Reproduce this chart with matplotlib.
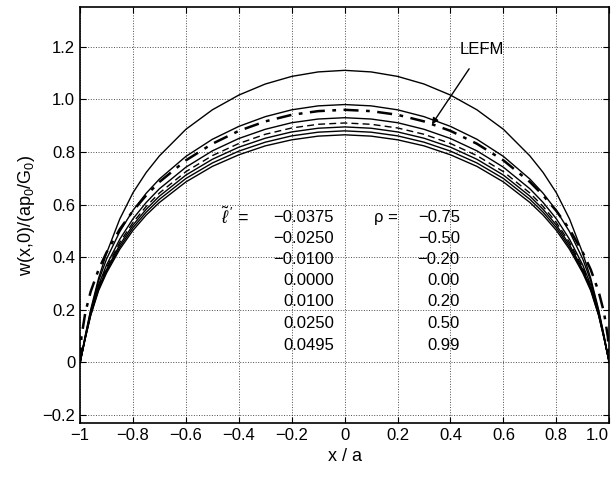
import matplotlib
matplotlib.use("Agg")
import matplotlib.pyplot as plt

plt.rcParams['font.family'] = ['Liberation Sans', 'DejaVu Sans']
plt.rcParams['mathtext.fontset'] = 'custom'
plt.rcParams['mathtext.rm'] = 'Liberation Sans'
plt.rcParams['mathtext.it'] = 'Liberation Sans:italic'

# crack opening profiles (symmetric about x/a = 0)
x = [-1.0, -0.98, -0.96, -0.93, -0.9, -0.85, -0.8, -0.75, -0.7, -0.6, -0.5, -0.4, -0.3, -0.2, -0.1,
     0.0, 0.1, 0.2, 0.3, 0.4, 0.5, 0.6, 0.7, 0.75, 0.8, 0.85, 0.9, 0.93, 0.96, 0.98, 1.0]

w1 = [0.0, 0.105, 0.20, 0.32, 0.415, 0.545, 0.645, 0.722, 0.785, 0.886, 0.960, 1.016, 1.058, 1.087, 1.104,
      1.110, 1.104, 1.087, 1.058, 1.016, 0.960, 0.886, 0.785, 0.722, 0.645, 0.545, 0.415, 0.32, 0.20, 0.105, 0.0]
w2 = [0.0, 0.10, 0.195, 0.31, 0.393, 0.497, 0.578, 0.643, 0.697, 0.783, 0.848, 0.897, 0.934, 0.960, 0.975,
      0.980, 0.975, 0.960, 0.934, 0.897, 0.848, 0.783, 0.697, 0.643, 0.578, 0.497, 0.393, 0.31, 0.195, 0.10, 0.0]
w3 = [0.0, 0.098, 0.19, 0.295, 0.370, 0.468, 0.546, 0.608, 0.660, 0.742, 0.804, 0.851, 0.886, 0.911, 0.925,
      0.930, 0.925, 0.911, 0.886, 0.851, 0.804, 0.742, 0.660, 0.608, 0.546, 0.468, 0.370, 0.295, 0.19, 0.098, 0.0]
w4 = [0.0, 0.096, 0.186, 0.288, 0.360, 0.456, 0.532, 0.593, 0.644, 0.725, 0.786, 0.832, 0.867, 0.891, 0.905,
      0.910, 0.905, 0.891, 0.867, 0.832, 0.786, 0.725, 0.644, 0.593, 0.532, 0.456, 0.360, 0.288, 0.186, 0.096, 0.0]
w5 = [0.0, 0.095, 0.183, 0.283, 0.353, 0.447, 0.522, 0.582, 0.632, 0.712, 0.772, 0.818, 0.852, 0.876, 0.890,
      0.895, 0.890, 0.876, 0.852, 0.818, 0.772, 0.712, 0.632, 0.582, 0.522, 0.447, 0.353, 0.283, 0.183, 0.095, 0.0]
w6 = [0.0, 0.094, 0.180, 0.278, 0.346, 0.438, 0.512, 0.571, 0.620, 0.699, 0.758, 0.803, 0.837, 0.861, 0.875,
      0.880, 0.875, 0.861, 0.837, 0.803, 0.758, 0.699, 0.620, 0.571, 0.512, 0.438, 0.346, 0.278, 0.180, 0.094, 0.0]
w7 = [0.0, 0.093, 0.178, 0.273, 0.340, 0.430, 0.502, 0.560, 0.608, 0.686, 0.745, 0.789, 0.823, 0.846, 0.860,
      0.865, 0.860, 0.846, 0.823, 0.789, 0.745, 0.686, 0.608, 0.560, 0.502, 0.430, 0.340, 0.273, 0.178, 0.093, 0.0]

x_lefm = [-1.0, -0.995, -0.98, -0.96, -0.93, -0.9, -0.85, -0.8, -0.75, -0.7, -0.6, -0.5, -0.4, -0.3, -0.2, -0.1,
          0.0, 0.1, 0.2, 0.3, 0.4, 0.5, 0.6, 0.7, 0.75, 0.8, 0.85, 0.9, 0.93, 0.96, 0.98, 0.995, 1.0]
w_lefm = [0.0, 0.096, 0.191, 0.269, 0.353, 0.418, 0.506, 0.576, 0.635, 0.686, 0.768, 0.831, 0.880, 0.916, 0.941, 0.955,
          0.960, 0.955, 0.941, 0.916, 0.880, 0.831, 0.768, 0.686, 0.635, 0.576, 0.506, 0.418, 0.353, 0.269, 0.191, 0.096, 0.0]

lp = ['\u22120.0375', '\u22120.0250', '\u22120.0100', '0.0000', '0.0100', '0.0250', '0.0495']
rho = ['\u22120.75', '\u22120.50', '\u22120.20', '0.00', '0.20', '0.50', '0.99']

xticks = [-1, -0.8, -0.6, -0.4, -0.2, 0, 0.2, 0.4, 0.6, 0.8, 1.0]
xticklabels = ['\u22121', '\u22120.8', '\u22120.6', '\u22120.4', '\u22120.2', '0', '0.2', '0.4', '0.6', '0.8', '1.0']
yticks = [-0.2, 0, 0.2, 0.4, 0.6, 0.8, 1.0, 1.2]
yticklabels = ['\u22120.2', '0', '0.2', '0.4', '0.6', '0.8', '1.0', '1.2']

fig = plt.figure(figsize=(6.16, 4.79), dpi=100)
ax = fig.add_axes([0.130, 0.117, 0.859, 0.868])

for w in [w1, w2, w3, w5, w6, w7]:
    ax.plot(x, w, color='black', lw=1.0)
ax.plot(x, w4, color='black', lw=1.0, ls=(0, (5, 3)))
ax.plot(x_lefm, w_lefm, color='black', lw=1.8, ls=(0, (6, 3, 1.5, 3)))

ax.set_xlim(-1, 1)
ax.set_ylim(-0.23, 1.35)
ax.set_xticks(xticks)
ax.set_xticklabels(xticklabels)
ax.set_yticks(yticks)
ax.set_yticklabels(yticklabels)
ax.tick_params(direction='in', top=True, right=True, labelsize=12, length=4)
ax.get_xticklabels()[-1].set_horizontalalignment('right')
ax.grid(True, ls=':', color='black', lw=0.7, alpha=0.7)
for s in ax.spines.values():
    s.set_linewidth(1.2)

ax.set_xlabel('x / a', fontsize=13)
ax.set_ylabel('w(x,0)/(ap$_0$/G$_0$)', fontsize=13)

# parameter table
ax.text(-0.36, 0.552, r"$\tilde{\ell}\,'$ =", fontsize=13, ha='right', va='center')
ax.text(0.2, 0.552, '\u03c1 =', fontsize=12, ha='right', va='center')
row_y = [0.552, 0.472, 0.392, 0.312, 0.231, 0.148, 0.065]
for yy, a, b in zip(row_y, lp, rho):
    ax.text(-0.04, yy, a, fontsize=12, ha='right', va='center')
    ax.text(0.435, yy, b, fontsize=12, ha='right', va='center')

ax.annotate('LEFM', xy=(0.33, 0.905), xytext=(0.52, 1.19), fontsize=12, ha='center', va='center',
            arrowprops=dict(arrowstyle='-|>', color='black', lw=1.0, mutation_scale=9,
                            shrinkA=8, shrinkB=0))

fig.savefig('out.png', dpi=100)
